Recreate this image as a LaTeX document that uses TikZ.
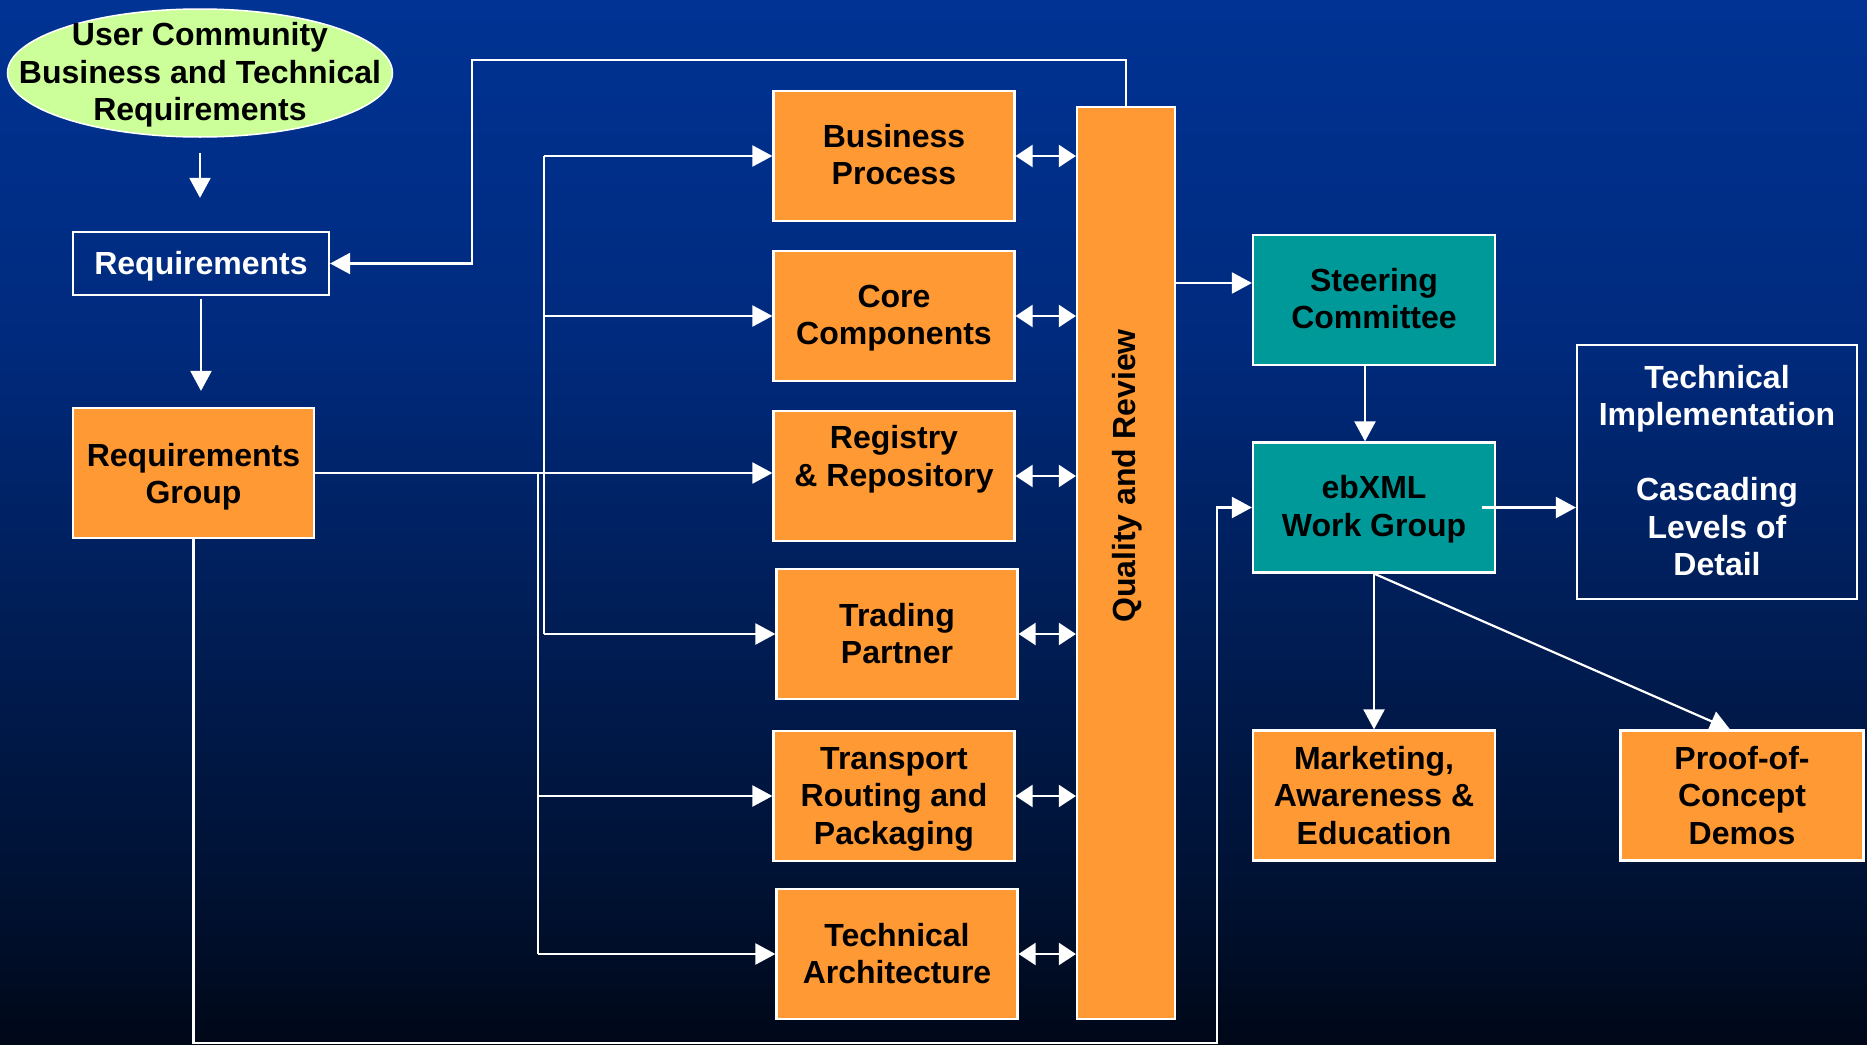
\documentclass[tikz,border=0pt]{standalone}
\usepackage{fontspec}
\setmainfont{Liberation Sans}
\usetikzlibrary{arrows.meta,shapes.geometric,calc}
\definecolor{bga}{RGB}{0,51,148}
\definecolor{bgb}{RGB}{0,42,125}
\definecolor{bgc}{RGB}{0,30,88}
\definecolor{bgd}{RGB}{0,18,52}
\definecolor{bge}{RGB}{0,8,24}
\definecolor{orng}{RGB}{255,153,51}
\definecolor{tealbox}{RGB}{0,153,153}
\definecolor{lgreen}{RGB}{204,255,153}
\pgfdeclareverticalshading{bgshade}{100bp}{color(0bp)=(bge); color(25bp)=(bge); color(32.9bp)=(bgd); color(46.3bp)=(bgc); color(58.7bp)=(bgb); color(75bp)=(bga); color(100bp)=(bga)}
% block of centred lines whose baseline is the baseline of its first line
\newcommand\lns[1]{\vtop{\let\\\cr\halign{\hfil##\hfil\cr#1\crcr}}}
\begin{document}
\begin{tikzpicture}[x=1pt,y=-1pt,
  txt/.style={font=\fontsize{32}{37.5}\selectfont\bfseries, inner sep=0pt, anchor=base},
  btxt/.style={txt, text=black},
  wtxt/.style={txt, text=white},
  obox/.style={draw=white, line width=2.2pt, fill=orng, minimum width=241pt, minimum height=130pt, inner sep=0pt},
  tbox/.style={obox, fill=tealbox},
  wbox/.style={draw=white, line width=2.2pt, inner sep=0pt},
  conn/.style={draw=white, line width=2.2pt},
  arr/.style={conn, -{Triangle[length=20pt,width=21pt]}},
  darr/.style={conn, {Triangle[length=17pt,width=22pt]}-{Triangle[length=17pt,width=22pt]}}]
\useasboundingbox (0,0) rectangle (1867,1044);
\shade[shading=bgshade] (0,0) rectangle (1867,1044);

% boxes
\node[ellipse, draw=white, line width=1.5pt, fill=lgreen, minimum width=385pt, minimum height=128pt, inner sep=0pt] (ell) at (200,73) {};
\node[wbox, minimum width=256pt, minimum height=63pt] (req) at (201,263.5) {};
\node[obox] (rg) at (193.5,473) {};
\node[obox] (bp) at (894,156) {};
\node[obox] (cc) at (894,316) {};
\node[obox] (rr) at (894,476) {};
\node[obox] (tp) at (897,634) {};
\node[obox] (trp) at (894,796) {};
\node[obox] (ta) at (897,954) {};
\node[obox, minimum width=98pt, minimum height=912pt] (qr) at (1126,563) {};
\node[tbox, minimum width=242pt] (st) at (1374,300) {};
\node[tbox, minimum width=242pt] (eb) at (1374,507.5) {};
\node[wbox, minimum width=280pt, minimum height=254pt] (ti) at (1717,472) {};
\node[obox, minimum width=242pt] (mk) at (1374,795.5) {};
\node[obox, minimum width=243pt] (pc) at (1742,795.5) {};

% texts (anchored on the baseline of their first line)
\node[btxt] (elltxt) at (200,45.5) {\lns{User Community\\Business and Technical\\Requirements}};
\node[wtxt] (reqtxt) at (201,274) {Requirements};
\node[btxt] (rgtxt) at (193.5,466) {\lns{Requirements\\Group}};
\node[btxt] (bptxt) at (894,147) {\lns{Business\\Process}};
\node[btxt] (cctxt) at (894,307) {\lns{Core\\Components}};
\node[btxt] (rrtxt) at (894,448.5) {\lns{Registry\\\& Repository}};
\node[btxt] (tptxt) at (897,626) {\lns{Trading\\Partner}};
\node[btxt] (trptxt) at (894,769) {\lns{Transport\\Routing and\\Packaging}};
\node[btxt] (tatxt) at (897,946) {\lns{Technical\\Architecture}};
\node[btxt, rotate=90, anchor=center] (qrtxt) at (1127,476) {Quality and Review};
\node[btxt] (sttxt) at (1374,291) {\lns{Steering\\Committee}};
\node[btxt] (ebtxt) at (1374,498.5) {\lns{ebXML\\Work Group}};
\node[wtxt] (titxt) at (1717,388) {\lns{Technical\\Implementation\\\\Cascading\\Levels of\\Detail}};
\node[btxt] (mktxt) at (1374,769) {\lns{Marketing,\\Awareness \&\\Education}};
\node[btxt] (pctxt) at (1742,769) {\lns{Proof-of-\\Concept\\Demos}};

% helper coordinates
\coordinate (fb) at (472,60);
\coordinate (b1) at (544,0);
\coordinate (b2) at (538,0);
\coordinate (qs) at (0,283);
\coordinate (bl) at (1217,1043);

% connectors
\draw[arr, shorten <=15pt, shorten >=33pt] (ell.south) -- (ell.south |- req.north);
\draw[arr, shorten <=3pt, shorten >=16pt] (req.south) -- (req.south |- rg.north);
\draw[arr] (qr.north) |- (fb) -- (fb |- req.east) -- (req.east);

\draw[arr] (rg.east) -- (rg.east -| rr.west);
\draw[conn] (b1 |- bp.west) -- (b1 |- tp.west);
\draw[arr] (b1 |- bp.west) -- (bp.west);
\draw[arr] (b1 |- cc.west) -- (cc.west);
\draw[arr] (b1 |- tp.west) -- (tp.west);
\draw[conn] (b2 |- rg.east) -- (b2 |- ta.west);
\draw[arr] (b2 |- trp.west) -- (trp.west);
\draw[arr] (b2 |- ta.west) -- (ta.west);

\draw[darr] (bp.east) -- (bp.east -| qr.west);
\draw[darr] (cc.east) -- (cc.east -| qr.west);
\draw[darr] (rr.east) -- (rr.east -| qr.west);
\draw[darr] (tp.east) -- (tp.east -| qr.west);
\draw[darr] (trp.east) -- (trp.east -| qr.west);
\draw[darr] (ta.east) -- (ta.east -| qr.west);

\draw[arr] (qr.east |- qs) -- (st.west |- qs);
\draw[arr] ([xshift=-9pt]st.south) -- ([xshift=-9pt]eb.north);
\draw[arr] (rg.south) |- (bl) -- (bl |- eb.west) -- (eb.west);
\draw[arr] ([xshift=-14pt]eb.east) -- (eb.east -| ti.west);
\draw[arr] (eb.south) -- (mk.north);
\draw[arr] (eb.south) -- ([xshift=-12pt]pc.north);
\end{tikzpicture}
\end{document}
